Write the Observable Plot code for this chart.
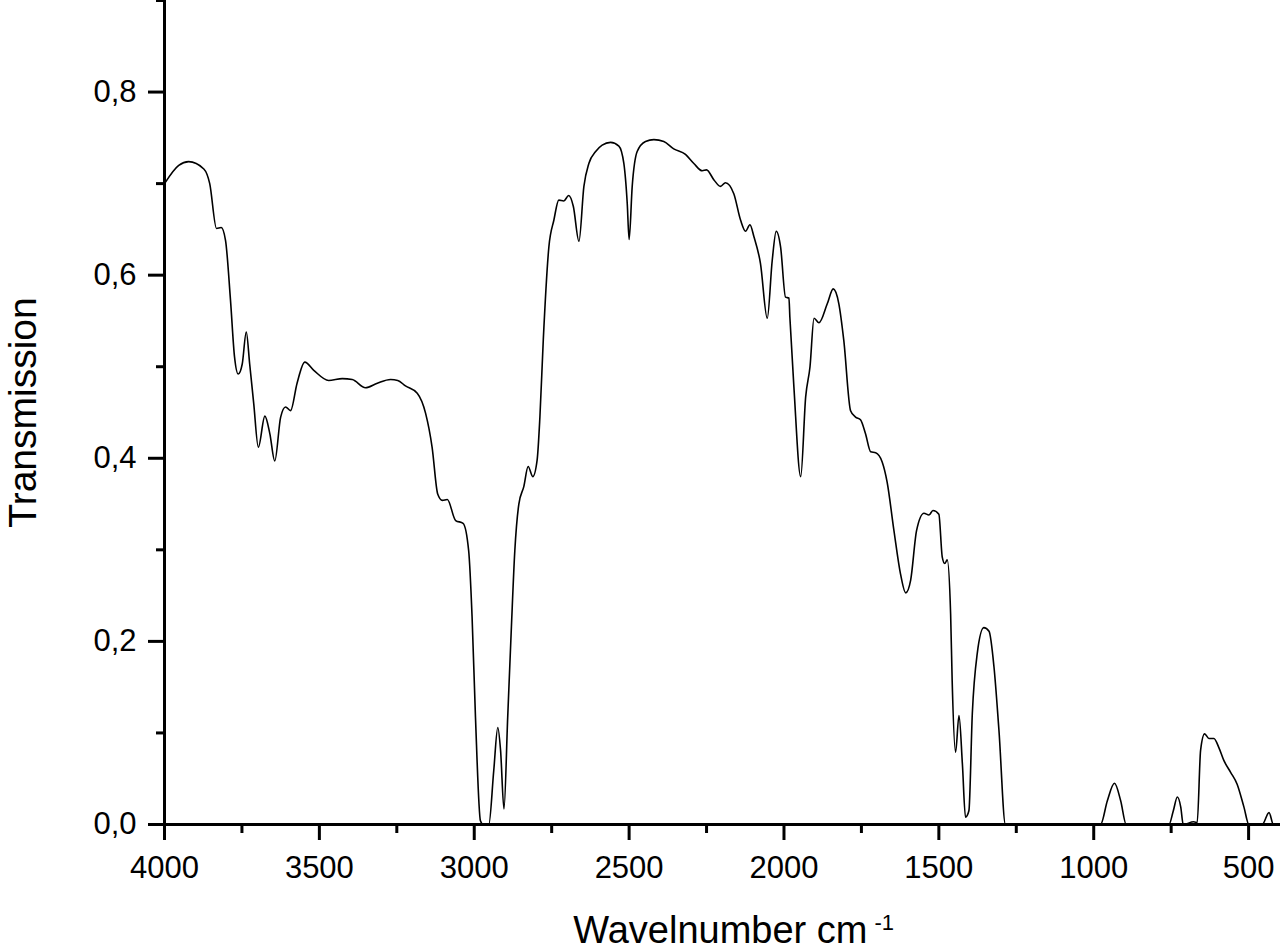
<!DOCTYPE html>
<html><head><meta charset="utf-8">
<script src="https://cdn.jsdelivr.net/npm/d3@7"></script>
<script src="https://cdn.jsdelivr.net/npm/@observablehq/plot@0.6"></script>
<style>body{margin:0;background:#fff;}</style>
</head><body><div id="chart"></div>
<script>
const wavenumber = [4000,3954,3922,3873,3854,3832,3817,3803,3787,3774,3762,3749,3736,3725,3712,3697,3676,3660,3644,3625,3609,3593,3572,3547,3518,3470,3426,3394,3351,3313,3270,3247,3222,3184,3157,3136,3118,3103,3087,3060,3036,3018,3007,2996,2980,2971,2953,2937,2924,2915,2904,2892,2880,2869,2856,2840,2826,2811,2797,2788,2777,2759,2743,2727,2711,2695,2680,2662,2646,2630,2608,2587,2560,2533,2517,2506,2500,2490,2474,2447,2420,2388,2356,2318,2291,2264,2250,2226,2205,2189,2162,2140,2124,2110,2097,2076,2054,2038,2025,2011,1995,1984,1981,1968,1946,1930,1916,1903,1887,1860,1841,1823,1807,1785,1769,1753,1737,1720,1704,1683,1667,1645,1624,1607,1591,1572,1548,1532,1519,1500,1489,1481,1473,1462,1457,1446,1435,1424,1414,1403,1392,1376,1355,1338,1322,1306,1285,978,956,933,913,895,757,743,730,719,711,677,666,655,642,628,612,596,580,558,537,515,499,456,434,420,397];
const transmission = [0.700,0.720,0.724,0.716,0.700,0.651,0.652,0.638,0.573,0.511,0.492,0.503,0.538,0.503,0.460,0.412,0.446,0.427,0.397,0.445,0.456,0.452,0.482,0.505,0.496,0.485,0.487,0.486,0.477,0.482,0.486,0.485,0.479,0.471,0.449,0.412,0.361,0.354,0.355,0.332,0.329,0.299,0.227,0.117,0.004,0,0,0.059,0.106,0.081,0.017,0.117,0.216,0.299,0.350,0.369,0.391,0.380,0.398,0.445,0.530,0.631,0.660,0.682,0.681,0.687,0.675,0.637,0.697,0.722,0.735,0.742,0.745,0.741,0.722,0.678,0.639,0.697,0.735,0.746,0.748,0.746,0.738,0.732,0.722,0.714,0.715,0.704,0.697,0.701,0.689,0.660,0.648,0.655,0.642,0.613,0.553,0.616,0.648,0.631,0.576,0.575,0.554,0.478,0.380,0.467,0.500,0.553,0.548,0.569,0.585,0.569,0.529,0.452,0.445,0.442,0.427,0.407,0.406,0.396,0.374,0.321,0.274,0.253,0.267,0.321,0.340,0.338,0.343,0.339,0.292,0.285,0.289,0.230,0.157,0.079,0.119,0.066,0.008,0.015,0.121,0.187,0.215,0.211,0.172,0.103,0,0,0.026,0.045,0.026,0,0,0.015,0.030,0.019,0,0.003,0.002,0.081,0.099,0.094,0.094,0.084,0.070,0.057,0.044,0.019,0,0,0.013,0,0];
const xMajorTicks = [4000,3500,3000,2500,2000,1500,1000,500];
const xMinorTicks = [3750,3250,2750,2250,1750,1250,750];
const yMajorTicks = [0,0.2,0.4,0.6,0.8];
const yMinorTicks = [0.1,0.3,0.5,0.7,0.9];
const xTitle = "Wavelnumber cm";
const xTitleSup = "-1";
const yTitle = "Transmission";

const data = wavenumber.map((w, i) => ({w, t: transmission[i]}));
const fmt = d => d.toFixed(1).replace(".", ",");
const font = "'Liberation Sans', Arial, Helvetica, sans-serif";

const chart = Plot.plot({
  width: 1280, height: 950,
  marginLeft: 164, marginRight: 0, marginTop: 0, marginBottom: 126,
  style: {fontFamily: font, background: "white", color: "black"},
  x: {domain: [4000, 397], axis: null},
  y: {domain: [0, 0.9], axis: null},
  marks: [
    Plot.line(data, {x: "w", y: "t", stroke: "black", strokeWidth: 1.6, curve: "monotone-x", clip: true}),
    Plot.axisX(xMajorTicks, {tickSize: 16, strokeWidth: 3, tickFormat: () => "", label: null}),
    Plot.axisX(xMinorTicks, {tickSize: 9, strokeWidth: 3, tickFormat: () => "", label: null}),
    Plot.axisY(yMajorTicks, {tickSize: 16, strokeWidth: 3, tickFormat: () => "", label: null}),
    Plot.axisY(yMinorTicks, {tickSize: 8, strokeWidth: 3, tickFormat: () => "", label: null}),
    Plot.text(xMajorTicks, {x: d => d, frameAnchor: "bottom", textAnchor: "middle", lineAnchor: "top", dy: 31, fontSize: 31, text: d => String(d)}),
    Plot.text(yMajorTicks, {y: d => d, frameAnchor: "left", textAnchor: "end", lineAnchor: "middle", dx: -28, fontSize: 31, text: fmt}),
    Plot.ruleY([0], {strokeWidth: 3}),
    Plot.ruleX([4000], {strokeWidth: 3}),
    Plot.text([yTitle], {frameAnchor: "left", textAnchor: "middle", lineAnchor: "middle", rotate: -90, dx: -141, fontSize: 39, text: d => d}),
    Plot.text([xTitle], {frameAnchor: "bottom", textAnchor: "end", lineAnchor: "bottom", dx: 145, dy: 118, fontSize: 38, text: d => d}),
    Plot.text([xTitleSup], {frameAnchor: "bottom", textAnchor: "start", lineAnchor: "bottom", dx: 152, dy: 105, fontSize: 22, text: d => d})
  ]
});
document.getElementById("chart").appendChild(chart);
</script>
</body></html>
